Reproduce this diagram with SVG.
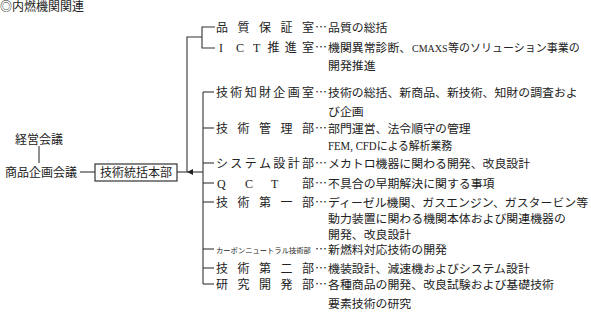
<svg xmlns="http://www.w3.org/2000/svg" width="591" height="313" viewBox="0 0 591 313">
<style>
text{font-family:"Liberation Serif","Noto Sans CJK JP",serif;font-size:12px;fill:#222}
.d{font-size:11.9px}
.e{font-family:"Noto Sans CJK JP",sans-serif;font-size:12px}
.ln{stroke:#333;stroke-width:1.1;fill:none}
.box{stroke:#333;stroke-width:1.2;fill:#fff}
</style>
<defs>
<marker id="ah" viewBox="0 0 6 6" refX="3" refY="6" markerWidth="6" markerHeight="6" orient="auto-start-reverse" markerUnits="userSpaceOnUse">
<path d="M0,0 L6,0 L3,6 z" fill="#222"/>
</marker>
</defs>
<text x="0" y="10.5">◎内燃機関関連</text>
<g id="connectors">
<line class="ln" x1="39" y1="146" x2="39" y2="163"/>
<line class="ln" x1="80" y1="172" x2="95" y2="172"/>
<line class="ln" x1="177" y1="172" x2="203" y2="172"/>
<polyline class="ln" points="202,37 187,37 187,172" marker-end="url(#ah)"/>
<polyline class="ln" points="215,27 202,27 202,48 215,48"/>
<line class="ln" x1="203" y1="92" x2="203" y2="284"/>
<line class="ln" x1="203" y1="92" x2="214" y2="92"/>
<line class="ln" x1="203" y1="128" x2="214" y2="128"/>
<line class="ln" x1="203" y1="163" x2="214" y2="163"/>
<line class="ln" x1="203" y1="183" x2="214" y2="183"/>
<line class="ln" x1="203" y1="202" x2="214" y2="202"/>
<line class="ln" x1="203" y1="249" x2="214" y2="249"/>
<line class="ln" x1="203" y1="268" x2="214" y2="268"/>
<line class="ln" x1="203" y1="284" x2="214" y2="284"/>
</g>
<g id="keiei"><text x="15" y="143.5">経営会議</text></g>
<g id="shohin"><text x="5" y="176.5">商品企画会議</text></g>
<g id="honbu"><rect class="box" x="95" y="164" width="82" height="17"/><text x="100" y="177">技術統括本部</text></g>
<g id="hinshitsu"><text x="216 237.5 259 280.5 302" y="31.5">品質保証室</text><text class="e" x="315" y="31.5">…</text><text class="d" x="328" y="31.5">品質の総括</text></g>
<g id="ict"><text x="219 236 253 267.6 284.8 302" y="52">ICT推進室</text><text class="e" x="315" y="52">…</text><text class="d" x="328" y="52">機関異常診断、</text><text x="412" y="52" style="font-size:10px">CMAXS</text><text x="448" y="52" style="font-size:11px">等のソリューション事業の</text><text class="d" x="328" y="69.5">開発推進</text></g>
<g id="chizai"><text x="216 230.3 244.7 259 273.3 287.7 302" y="96.5">技術知財企画室</text><text class="e" x="315" y="96.5">…</text><text class="d" x="328" y="96.5">技術の総括、新商品、新技術、知財の調査およ</text><text class="d" x="328" y="115.5">び企画</text></g>
<g id="kanri"><text x="216 237.5 259 280.5 302" y="132.5">技術管理部</text><text class="e" x="315" y="132.5">…</text><text class="d" x="328" y="132.5">部門運営、法令順守の管理</text><text class="d" x="328" y="149.5" textLength="124" lengthAdjust="spacingAndGlyphs">FEM, CFDによる解析業務</text></g>
<g id="system"><text x="216 230.3 244.7 259 273.3 287.7 302" y="167.5">システム設計部</text><text class="e" x="315" y="167.5">…</text><text class="d" x="328" y="167.5">メカトロ機器に関わる開発、改良設計</text></g>
<g id="qct"><text x="217 245 271 302" y="187.5">QCT部</text><text class="e" x="315" y="187.5">…</text><text class="d" x="328" y="187.5">不具合の早期解決に関する事項</text></g>
<g id="daiichi"><text x="216 237.5 259 280.5 302" y="206.5">技術第一部</text><text class="e" x="315" y="206.5">…</text><text class="d" x="328" y="206.5">ディーゼル機関、ガスエンジン、ガスタービン等</text><text class="d" x="328" y="222.5">動力装置に関わる機関本体および関連機器の</text><text class="d" x="328" y="238.5">開発、改良設計</text></g>
<g id="carbon"><text x="216" y="252.5" style="font-size:7.3px">カーボンニュートラル技術部</text><text class="e" x="315" y="253.5">…</text><text class="d" x="328" y="253.5">新燃料対応技術の開発</text></g>
<g id="daini"><text x="216 237.5 259 280.5 302" y="272.5">技術第二部</text><text class="e" x="315" y="272.5">…</text><text class="d" x="328" y="272.5">機装設計、減速機およびシステム設計</text></g>
<g id="kenkyu"><text x="216 237.5 259 280.5 302" y="288.5">研究開発部</text><text class="e" x="315" y="288.5">…</text><text class="d" x="328" y="288.5">各種商品の開発、改良試験および基礎技術</text><text class="d" x="328" y="307.5">要素技術の研究</text></g>
</svg>
